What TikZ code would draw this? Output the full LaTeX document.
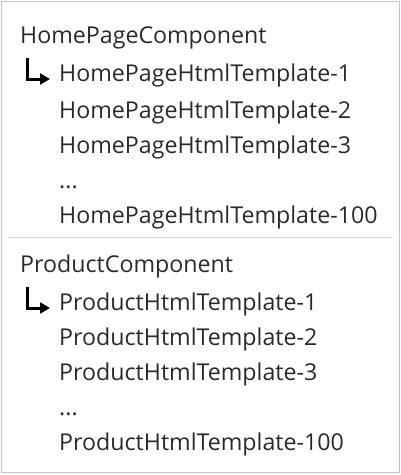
\documentclass[tikz,border=0pt]{standalone}
\usepackage{fontspec}
\setmainfont{Open Sans}
\usetikzlibrary{arrows.meta}
\definecolor{frame}{HTML}{C4C4C4}
\definecolor{sep}{HTML}{D4D4D4}
\definecolor{txt}{HTML}{2A2A2A}
\begin{document}
\begin{tikzpicture}[x=1pt,y=-1pt,
  lbl/.style={anchor=base west,inner sep=0pt,text=txt,font=\fontsize{23.2}{26}\selectfont},
  corner/.style={line width=3pt,-{Triangle[length=10pt,width=11pt]},line join=miter}]
\useasboundingbox (0,0) rectangle (400,475);
\node[draw=frame,line width=1pt,minimum width=397.5pt,minimum height=471pt,anchor=north west,inner sep=0pt] (box) at (1,1) {};
% group 1
\node[lbl] (h1) at (20,43) {HomePageComponent};
\node[lbl] (a1) at (59,81) {HomePageHtmlTemplate-1};
\node[lbl] (a2) at (59,118) {HomePageHtmlTemplate-2};
\node[lbl] (a3) at (59,153) {HomePageHtmlTemplate-3};
\node[lbl] (a4) at (59,188) {...};
\node[lbl] (a5) at (59,223) {HomePageHtmlTemplate-100};
\coordinate (p1) at (27,58);
\coordinate (q1) at (50,79);
\draw[corner] (p1) |- (q1);
% separator
\coordinate (s1) at (8,237.5);
\coordinate (s2) at (393,237.5);
\draw[sep,line width=1pt] (s1) -- (s2);
% group 2
\node[lbl] (h2) at (20,272.5) {ProductComponent};
\node[lbl] (b1) at (59,310) {ProductHtmlTemplate-1};
\node[lbl] (b2) at (59,345) {ProductHtmlTemplate-2};
\node[lbl] (b3) at (59,380) {ProductHtmlTemplate-3};
\node[lbl] (b4) at (59,415) {...};
\node[lbl] (b5) at (59,450) {ProductHtmlTemplate-100};
\coordinate (p2) at (27,287);
\coordinate (q2) at (50,308);
\draw[corner] (p2) |- (q2);
\end{tikzpicture}
\end{document}
